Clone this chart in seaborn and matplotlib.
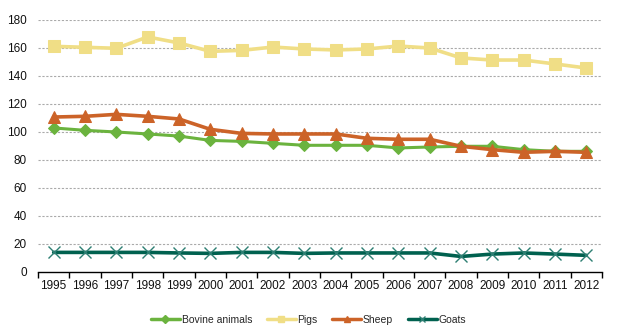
import matplotlib
matplotlib.use("Agg")
import matplotlib.pyplot as plt
import seaborn as sns
import pandas as pd
import numpy as np
from matplotlib.ticker import FixedLocator
from matplotlib.lines import Line2D

years = list(range(1995, 2013))
bovine = [102.9, 101.2, 100.0, 98.6, 97.1, 94.0, 93.3, 91.9, 90.5, 90.5, 90.5, 88.6, 89.3, 89.8, 89.8, 87.4, 86.2, 86.2]
pigs = [161.2, 160.5, 159.8, 167.9, 163.6, 157.6, 158.3, 160.7, 159.3, 158.6, 159.3, 161.4, 160.0, 152.9, 151.4, 151.4, 148.6, 145.7]
sheep = [110.7, 111.2, 112.6, 111.2, 109.3, 101.9, 99.0, 98.6, 98.6, 98.6, 95.5, 94.8, 94.8, 89.8, 87.4, 85.5, 86.2, 85.5]
goats = [14.0, 14.0, 14.0, 14.0, 13.6, 13.3, 14.0, 14.0, 13.3, 13.6, 13.6, 13.6, 13.6, 11.1, 12.8, 13.6, 12.8, 11.9]

series_names = ["Bovine animals", "Pigs", "Sheep", "Goats"]
series_vals = [bovine, pigs, sheep, goats]
colors = ["#6BB33E", "#F0DE86", "#CC6328", "#00614F"]
markers = ["D", "s", "^", "x"]
msizes = [6, 9, 8.5, 8]
lws = [2.2, 2.6, 2.6, 2.6]

sns.set_theme(style="white")
plt.rcParams['font.family'] = ['Liberation Sans Narrow', 'Liberation Sans', 'DejaVu Sans']

fig = plt.figure(figsize=(6.17, 3.35), dpi=100)
ax = fig.add_axes([38/617, 1-272/335, (602-38)/617, (272-20)/335])

rows = []
for name, vals in zip(series_names, series_vals):
    for i, v in enumerate(vals):
        rows.append({"idx": i, "value": v, "series": name})
df = pd.DataFrame(rows)

for name, c, m, ms, lw in zip(series_names, colors, markers, msizes, lws):
    sub = df[df.series == name]
    kw = dict(markeredgecolor=c)
    if m == "x":
        kw = dict(markeredgewidth=1.0, markeredgecolor="#2E7F73")
    sns.lineplot(data=sub, x="idx", y="value", ax=ax, color=c, marker=m,
                 markersize=ms, linewidth=lw, label=name, **kw)

ax.set_xlim(-0.5, 17.5)
ax.set_ylim(0, 180)
ax.set_yticks(range(0, 181, 20))
ax.set_xticks(range(len(years)))
ax.set_xticklabels([str(y) for y in years])
ax.xaxis.set_minor_locator(FixedLocator(np.arange(-0.5, 17.6, 1)))
ax.tick_params(axis="x", which="major", length=0, labelsize=8.5, colors="#111111", pad=6)
ax.tick_params(axis="x", which="minor", length=4, width=1, color="black", direction="out", bottom=True)
ax.tick_params(axis="y", length=0, labelsize=8.5, colors="#111111", pad=8)
ax.set_xlabel("")
ax.set_ylabel("")
for s in ["top", "right", "left"]:
    ax.spines[s].set_visible(False)
ax.spines["bottom"].set_color("black")
ax.spines["bottom"].set_linewidth(1)
for y in range(20, 181, 20):
    ax.axhline(y, color="#AAAAAA", linestyle=(0, (2, 1.5)), linewidth=0.8, zorder=0)

ax.legend_.remove()
leg_handles = []
for c, m in zip(colors, markers):
    leg_handles.append(Line2D([0], [0], color=c, linewidth=2.5, marker=m, markersize=4,
                              markeredgecolor=c if m != "x" else "#2E7F73"))
fig.legend(leg_handles, series_names, loc="center", bbox_to_anchor=(0.5, 1-320/335),
           ncol=4, frameon=False, fontsize=7.5, handlelength=2.8, handletextpad=0.15,
           columnspacing=1.4)

fig.savefig("out.png", dpi=100)
